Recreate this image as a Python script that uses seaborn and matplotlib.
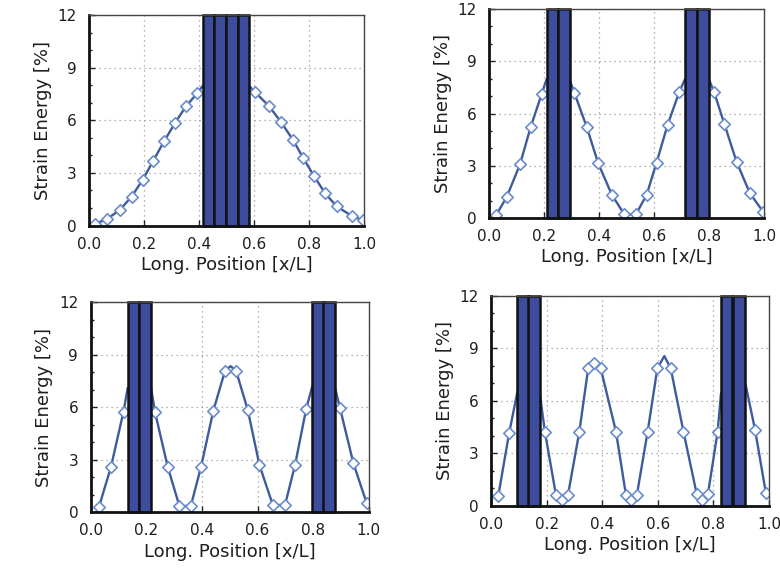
import numpy as np
import pandas as pd
import matplotlib
matplotlib.use("Agg")
import matplotlib.pyplot as plt
from matplotlib.ticker import MultipleLocator
import seaborn as sns

# ---- panel 1: one damper group at mid-span --------------------------------
p1_x = [0.022, 0.064, 0.113, 0.155, 0.195, 0.234, 0.273, 0.313, 0.353, 0.394,
        0.604, 0.655, 0.698, 0.741, 0.779, 0.819, 0.858, 0.900, 0.955, 0.995]
p1_y = [0.10, 0.35, 0.90, 1.65, 2.60, 3.70, 4.80, 5.85, 6.80, 7.55,
        7.60, 6.80, 5.90, 4.90, 3.85, 2.80, 1.85, 1.10, 0.55, 0.30]
p1_hx = [0.413, 0.500, 0.583]
p1_hy = [7.95, 8.50, 7.95]
p1_bars = [0.413, 0.455, 0.498, 0.540]
p1_bw = 0.0425

# ---- panel 2 ---------------------------------------------------------------
p2_x = [0.024, 0.063, 0.112, 0.150, 0.190, 0.309, 0.354, 0.396, 0.446, 0.491,
        0.533, 0.572, 0.608, 0.648, 0.691, 0.817, 0.855, 0.899, 0.948, 0.996]
p2_y = [0.15, 1.19, 3.10, 5.20, 7.10, 7.20, 5.24, 3.14, 1.32, 0.21,
        0.21, 1.32, 3.17, 5.33, 7.25, 7.25, 5.39, 3.23, 1.41, 0.36]
p2_hx = [0.208, 0.250, 0.293, 0.711, 0.755, 0.800]
p2_hy = [7.95, 8.30, 7.90, 7.95, 8.30, 7.90]
p2_bars = [0.208, 0.251, 0.711, 0.755]
p2_bw = 0.043

# ---- panel 3 ---------------------------------------------------------------
p3_x = [0.030, 0.073, 0.118, 0.231, 0.277, 0.319, 0.360, 0.397, 0.441, 0.483,
        0.523, 0.565, 0.607, 0.655, 0.699, 0.735, 0.775, 0.897, 0.945, 0.993]
p3_y = [0.32, 2.60, 5.75, 5.75, 2.60, 0.36, 0.36, 2.60, 5.80, 8.08,
        8.08, 5.85, 2.70, 0.42, 0.42, 2.70, 5.90, 5.94, 2.80, 0.51]
p3_hx = [0.133, 0.175, 0.216, 0.503, 0.797, 0.836, 0.876]
p3_hy = [7.10, 7.60, 7.20, 8.35, 7.20, 7.60, 7.30]
p3_bars = [0.133, 0.175, 0.797, 0.836]
p3_bw = 0.041

# ---- panel 4 ---------------------------------------------------------------
p4_x = [0.025, 0.064, 0.193, 0.233, 0.254, 0.276, 0.317, 0.349, 0.370, 0.394,
        0.449, 0.485, 0.502, 0.524, 0.563, 0.598, 0.646, 0.692, 0.740, 0.759,
        0.780, 0.815, 0.950, 0.989]
p4_y = [0.55, 4.13, 4.23, 0.60, 0.30, 0.60, 4.23, 7.85, 8.15, 7.85,
        4.23, 0.60, 0.30, 0.60, 4.23, 7.85, 7.85, 4.23, 0.65, 0.35,
        0.65, 4.23, 4.32, 0.70]
p4_hx = [0.094, 0.133, 0.173, 0.623, 0.827, 0.872, 0.916]
p4_hy = [6.50, 7.00, 6.60, 8.55, 6.40, 7.00, 6.90]
p4_bars = [0.094, 0.133, 0.827, 0.872]
p4_bw = 0.0415

panels = [
    (p1_x, p1_y, p1_hx, p1_hy, p1_bars, p1_bw),
    (p2_x, p2_y, p2_hx, p2_hy, p2_bars, p2_bw),
    (p3_x, p3_y, p3_hx, p3_hy, p3_bars, p3_bw),
    (p4_x, p4_y, p4_hx, p4_hy, p4_bars, p4_bw),
]

# axes boxes in pixels: (x0, x1, y_top, y_bottom)
boxes_px = [
    (89.0, 364.0, 15.0, 225.5),
    (489.3, 764.3, 9.0, 218.0),
    (90.7, 368.7, 302.3, 512.3),
    (491.3, 769.0, 295.7, 505.7),
]

W, H = 780, 570
sns.set_theme(style="white")
plt.rcParams["font.family"] = ["DejaVu Sans"]

LINE_C = "#3f5b9c"
MARK_EC = "#6a8ccc"
BAR_C = "#3d4c9c"
TEXT_C = "#1e1e1e"

fig = plt.figure(figsize=(W / 100, H / 100), dpi=100)
fig.patch.set_facecolor("white")

for (mx, my, hx, hy, bars, bw), (x0, x1, yt, yb) in zip(panels, boxes_px):
    ax = fig.add_axes([x0 / W, 1 - yb / H, (x1 - x0) / W, (yb - yt) / H])

    line_df = pd.DataFrame({"x": list(mx) + list(hx), "y": list(my) + list(hy)})
    line_df = line_df.sort_values("x")
    mark_df = pd.DataFrame({"x": mx, "y": my})

    sns.lineplot(data=line_df, x="x", y="y", sort=False, estimator=None,
                 color=LINE_C, linewidth=1.7, ax=ax, zorder=3)
    sns.scatterplot(data=mark_df, x="x", y="y", marker="D", s=34,
                    facecolor="white", edgecolor=MARK_EC, linewidth=1.2,
                    ax=ax, zorder=4)

    ax.bar(bars, [12.0] * len(bars), width=bw, align="edge", bottom=0,
           color=BAR_C, edgecolor="#111111", linewidth=1.8, zorder=5,
           clip_on=False)

    ax.set_xlim(0, 1)
    ax.set_ylim(0, 12)
    ax.set_xticks([0.0, 0.2, 0.4, 0.6, 0.8, 1.0])
    ax.set_xticklabels(["0.0", "0.2", "0.4", "0.6", "0.8", "1.0"])
    ax.set_yticks([0, 3, 6, 9, 12])
    ax.yaxis.set_minor_locator(MultipleLocator(1))
    ax.grid(True, which="major", linestyle=(0, (1.0, 3.0)), color="#9a9a9a",
            linewidth=0.9, zorder=1)
    ax.tick_params(axis="x", which="major", direction="in", length=4,
                   width=1.0, color="#222222", labelsize=11, labelcolor=TEXT_C,
                   pad=8, bottom=True)
    ax.tick_params(axis="y", which="major", direction="in", length=4,
                   width=1.0, color="#222222", labelsize=11, labelcolor=TEXT_C,
                   pad=9, left=True)
    ax.tick_params(axis="y", which="minor", direction="in", length=2.5,
                   width=1.0, color="#222222", left=True)

    for side in ["top", "right"]:
        ax.spines[side].set_color("#444444")
        ax.spines[side].set_linewidth(1.0)
    for side in ["left", "bottom"]:
        ax.spines[side].set_color("#111111")
        ax.spines[side].set_linewidth(2.0)
    for s in ax.spines.values():
        s.set_zorder(6)

    ax.set_xlabel("Long. Position [x/L]", fontsize=13, color=TEXT_C, labelpad=3)
    ax.set_ylabel("Strain Energy [%]", fontsize=13, color=TEXT_C, labelpad=4)
    ax.set_facecolor("white")

fig.savefig("out.png", dpi=100, facecolor="white")
